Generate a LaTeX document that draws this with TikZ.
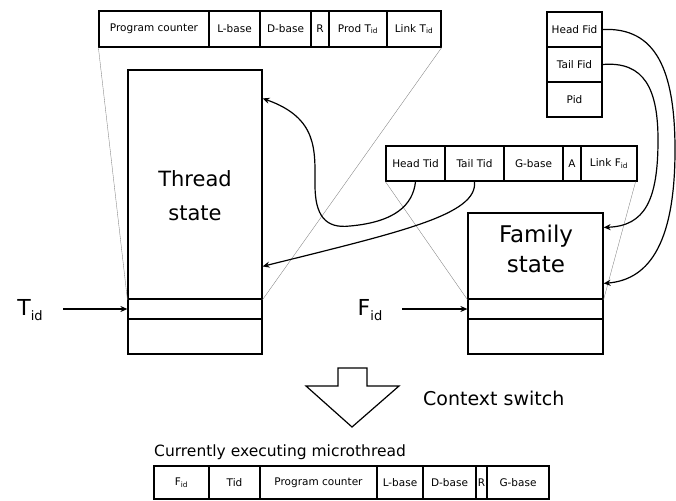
\documentclass[tikz,border=0pt]{standalone}
\usepackage{fontspec}
\setmainfont{DejaVu Sans}
\usetikzlibrary{arrows.meta,calc}

\newcommand\cellfont{\fontsize{10.5}{12}\selectfont}
% large index label: letter with a lowered "id"
\newcommand\idlabel[1]{#1\raisebox{-0.35ex}{\fontsize{13}{14}\selectfont id}}

\begin{document}
\begin{tikzpicture}[x=1pt,y=-1pt,
  cell/.style={draw, line width=1.2pt, inner sep=0pt, font=\cellfont, anchor=center},
  topcell/.style={cell, minimum height=36},
  famcell/.style={cell, minimum height=35},
  pidcell/.style={cell, minimum height=35, minimum width=55},
  botcell/.style={cell, minimum height=33},
  box/.style={draw, line width=1.2pt, inner sep=0pt, anchor=center},
  guide/.style={draw=gray, line width=0.35pt},
  link/.style={line width=1.2pt, -{Stealth[length=7pt,width=6pt]}},
  biglabel/.style={align=center}
]
\useasboundingbox (0,0) rectangle (676,500);

% Thread record fields
\node[topcell, minimum width=110] (tpc)   at (154,29)   {Program counter};
\node[topcell, minimum width=51]  (tlb)   at (234.5,29) {L-base};
\node[topcell, minimum width=51]  (tdb)   at (285.5,29) {D-base};
\node[topcell, minimum width=18]  (tr)    at (320,29)   {R};
\node[topcell, minimum width=58]  (tprod) at (358,29)   {Prod T\textsubscript{id}};
\node[topcell, minimum width=54]  (tlink) at (414,29)   {Link T\textsubscript{id}};

% Process record fields
\node[pidcell] (hfid) at (574.5,29.5) {Head Fid};
\node[pidcell] (tfid) at (574.5,64.5) {Tail Fid};
\node[pidcell] (pid)  at (574.5,99.5) {Pid};

% Family record fields
\node[famcell, minimum width=59] (fht) at (415.5,163.5) {Head Tid};
\node[famcell, minimum width=59] (ftt) at (474.5,163.5) {Tail Tid};
\node[famcell, minimum width=59] (fgb) at (533.5,163.5) {G-base};
\node[famcell, minimum width=18] (fa)  at (572,163.5)   {A};
\node[famcell, minimum width=56] (flf) at (609,163.5)   {Link F\textsubscript{id}};

% Thread state table
\node[box, minimum width=134, minimum height=229] (thread) at (195,184.5) {};
\node[box, minimum width=134, minimum height=20]  (tslot)  at (195,309)   {};
\node[box, minimum width=134, minimum height=35]  (tlow)   at (195,336.5) {};
\node[biglabel, font=\fontsize{21}{34}\selectfont] (threadlbl) at (195,196) {Thread\\state};

% Family state table
\node[box, minimum width=135, minimum height=86] (fam)   at (535.5,256) {};
\node[box, minimum width=135, minimum height=20] (fslot) at (535.5,309) {};
\node[box, minimum width=135, minimum height=35] (flow)  at (535.5,336.5) {};
\node[biglabel, font=\fontsize{23}{30}\selectfont] (famlbl) at (536,249) {Family\\state};

% Expansion guides
\draw[guide] (tpc.south west) -- (thread.south west);
\draw[guide] (tlink.south east) -- (thread.south east);
\draw[guide] (fht.south west) -- (fam.south west);
\draw[guide] ($(flf.south east)+(-2,0)$) -- (fam.south east);

% Index inputs
\node[font=\fontsize{22}{24}\selectfont] (tid) at (30,310) {\idlabel{T}};
\coordinate (tidstart) at (63,309);
\draw[link] (tidstart) -- (tslot.west);
\node[font=\fontsize{22}{24}\selectfont] (fid) at (370,310) {\idlabel{F}};
\coordinate (fidstart) at (402,309);
\draw[link] (fidstart) -- (fslot.west);

% Pointers from the family record into the thread table
\coordinate (thrhead) at ($(thread.north east)+(0,29)$);
\coordinate (thrtail) at ($(thread.north east)+(0,197)$);
\draw[link] (fht.south) .. controls (413,205) and (395,222) .. (350,226)
  .. controls (325,229) and (315,215) .. (315,185)
  .. controls (315,150) and (318,118) .. (thrhead);
\draw[link] (ftt.south) .. controls (478,215) and (400,232) .. (thrtail);

% Pointers from the process record into the family table
\coordinate (famhead) at ($(fam.north east)+(0,71)$);
\coordinate (famtail) at ($(fam.north east)+(0,15)$);
\draw[link] (hfid.east) .. controls (656,27) and (675,70) .. (675,150)
  .. controls (675,250) and (645,280) .. (famhead);
\draw[link] (tfid.east) .. controls (645,61) and (658,90) .. (658,140)
  .. controls (658,200) and (645,226) .. (famtail);

% Context switch arrow
\draw[line width=1.2pt, fill=white] (338,368) -- (367,368) -- (367,386) -- (399,386)
  -- (352,427) -- (306,386) -- (338,386) -- cycle;
\node[anchor=west, inner sep=0pt, font=\fontsize{19}{22}\selectfont] (ctx) at (423,398) {Context switch};

% Currently executing microthread
\node[anchor=south west, inner sep=0pt, font=\fontsize{15.5}{18}\selectfont] (cur) at (154,460) {Currently executing microthread};
\node[botcell, minimum width=55]  (bf)  at (181.5,482.5) {F\textsubscript{id}};
\node[botcell, minimum width=51]  (bt)  at (234.5,482.5) {Tid};
\node[botcell, minimum width=117] (bpc) at (318.5,482.5) {Program counter};
\node[botcell, minimum width=46]  (blb) at (400,482.5)   {L-base};
\node[botcell, minimum width=53]  (bdb) at (449.5,482.5) {D-base};
\node[botcell, minimum width=11]  (br)  at (481.5,482.5) {R};
\node[botcell, minimum width=62]  (bgb) at (518,482.5)   {G-base};
\end{tikzpicture}
\end{document}
